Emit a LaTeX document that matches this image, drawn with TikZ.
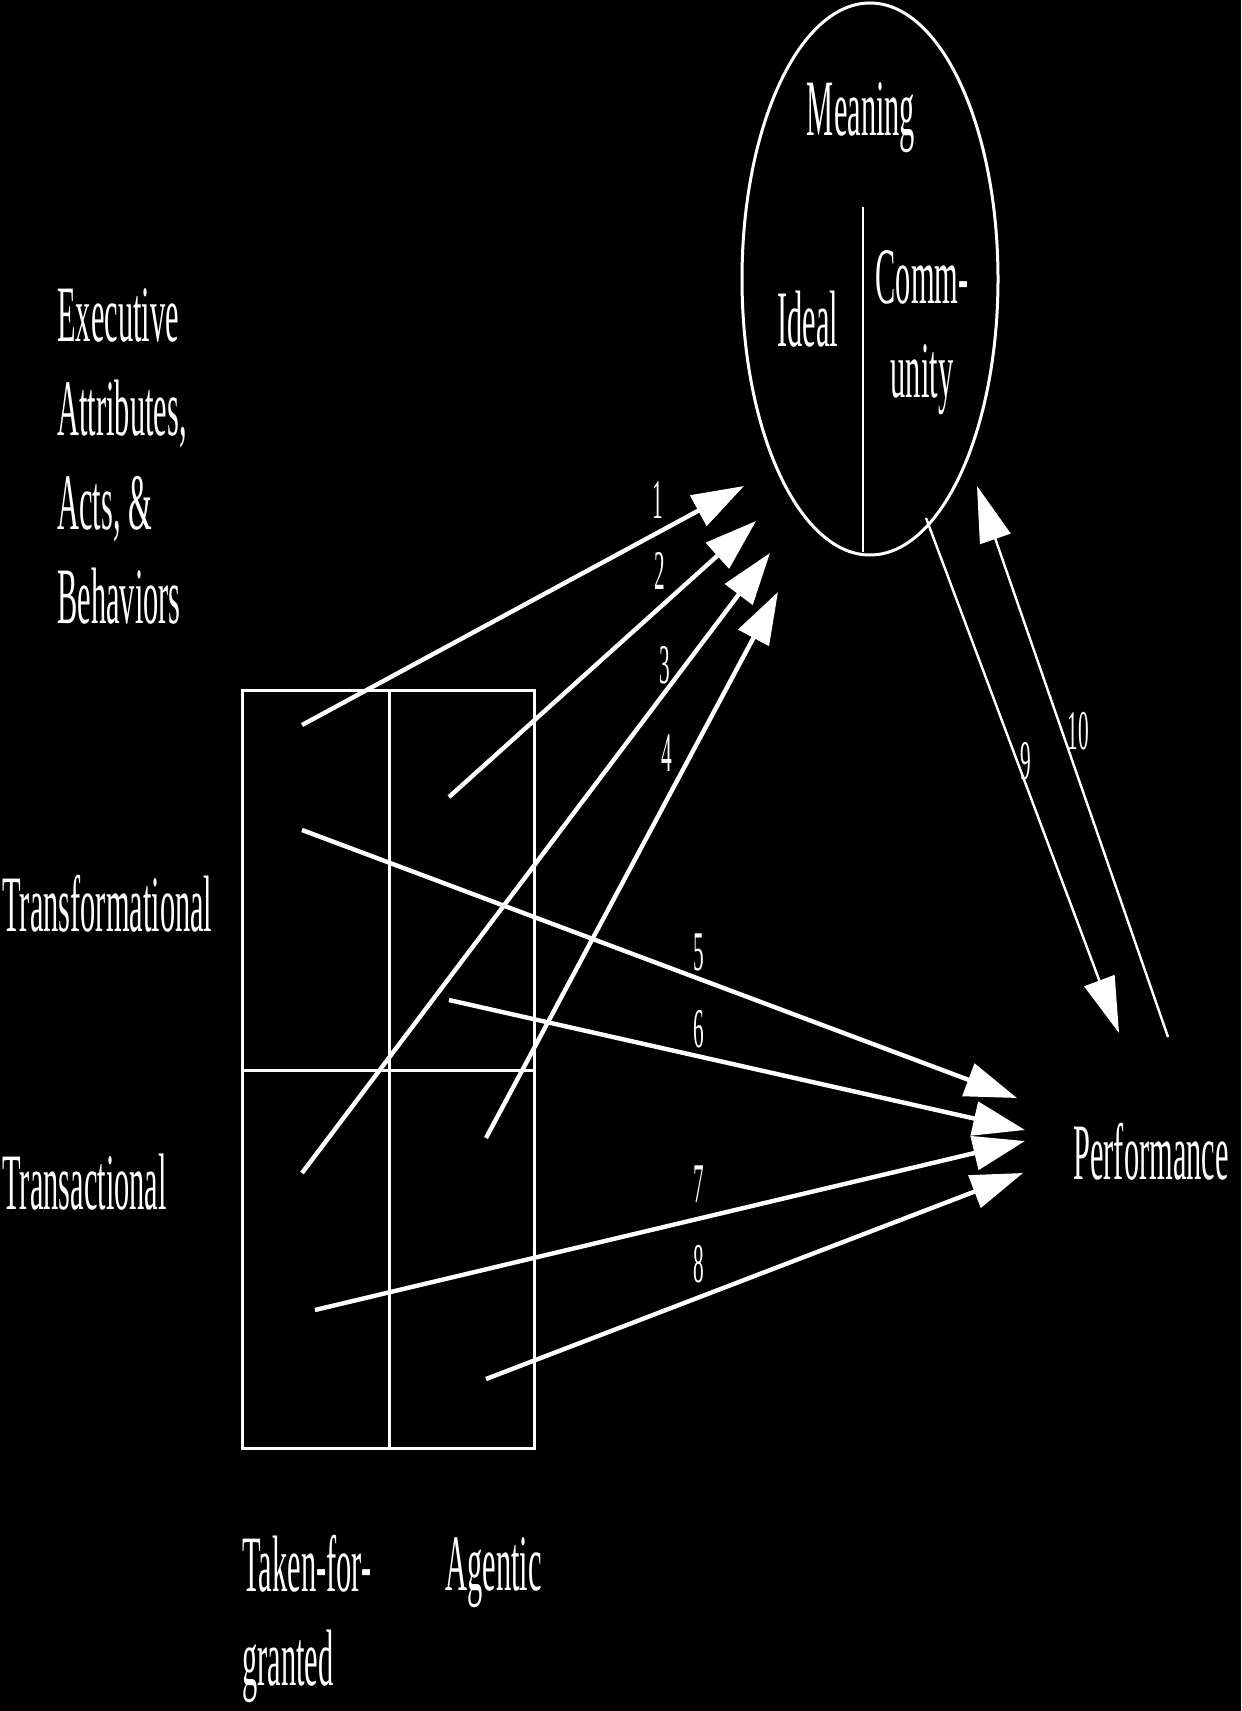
\documentclass[tikz,border=0pt]{standalone}
\usepackage{fontspec}
\setmainfont{Liberation Serif}[FakeStretch=0.38]
\usetikzlibrary{arrows.meta, shapes.geometric}

\begin{document}
\begin{tikzpicture}[x=0.5pt, y=-0.5pt,
    every node/.style={text=white, inner sep=0pt, font=\fontsize{40}{47}\selectfont},
    num/.style={font=\fontsize{28}{30}\selectfont},
    thickarrow/.style={draw=white, line width=2.2pt, -{Triangle[length=26pt, width=17pt]}},
    thinarrow/.style={draw=white, line width=1.2pt, -{Triangle[length=28pt, width=16pt]}},
    frame/.style={draw=white, line width=1.5pt}]
  \fill[black] (0,0) rectangle (1241,1711);
  \useasboundingbox (0,0) rectangle (1241,1711);

  % meaning ellipse
  \node[ellipse, frame, minimum width=128pt, minimum height=276pt] (meaning) at (870,279) {};
  \draw[white, line width=1pt] (863,207) -- (863,552);
  \node (mtitle) at (861,118) {Meaning};
  \node (ideal) at (808,319) {Ideal};
  \node[align=center] (comm) at (922,333) {Comm-\\unity};

  % left labels
  \node[anchor=west, align=left] (exec) at (57,456) {Executive\\Attributes,\\Acts, \&\\Behaviors};
  \node[anchor=west] (transf) at (2,904) {Transformational};
  \node[anchor=west] (transa) at (2,1182) {Transactional};
  \node[anchor=west, align=left] (taken) at (242,1619) {Taken-for-\\granted};
  \node[anchor=west] (agentic) at (445,1573) {Agentic};
  \node[anchor=west] (perf) at (1073,1152) {Performance};

  % 2x2 grid
  \draw[frame] (242,690) rectangle (534,1448);
  \draw[frame] (389,690) -- (389,1448);
  \draw[frame] (242,1070) -- (534,1070);

  % arrow ends
  \coordinate (s1) at (302,725);   \coordinate (t1) at (744,486);
  \coordinate (s2) at (449,797);   \coordinate (t2) at (756,521);
  \coordinate (s3) at (302,1173);  \coordinate (t3) at (770,553);
  \coordinate (s4) at (486,1138);  \coordinate (t4) at (778,592);
  \coordinate (s5) at (302,830);   \coordinate (t5) at (1017,1098);
  \coordinate (s6) at (449,1000);  \coordinate (t6) at (1025,1130);
  \coordinate (s7) at (315,1310);  \coordinate (t7) at (1025,1141);
  \coordinate (s8) at (486,1379);  \coordinate (t8) at (1023,1173);
  \coordinate (s9) at (926,518);   \coordinate (t9) at (1119,1033);
  \coordinate (s10) at (1168,1037); \coordinate (t10) at (977,486);

  \draw[thickarrow] (s1) -- (t1);
  \draw[thickarrow] (s2) -- (t2);
  \draw[thickarrow] (s3) -- (t3);
  \draw[thickarrow] (s4) -- (t4);
  \draw[thickarrow] (s5) -- (t5);
  \draw[thickarrow] (s6) -- (t6);
  \draw[thickarrow] (s7) -- (t7);
  \draw[thickarrow] (s8) -- (t8);
  \draw[thinarrow] (s9) -- (t9);
  \draw[thinarrow] (s10) -- (t10);

  % path numbers
  \node[num] (n1) at (658,500) {1};
  \node[num] (n2) at (660,571) {2};
  \node[num] (n3) at (665,665) {3};
  \node[num] (n4) at (667,753) {4};
  \node[num] (n5) at (699,952) {5};
  \node[num] (n6) at (699,1029) {6};
  \node[num] (n7) at (699,1184) {7};
  \node[num] (n8) at (699,1264) {8};
  \node[num] (n9) at (1026,761) {9};
  \node[num] (n10) at (1078,731) {10};
\end{tikzpicture}
\end{document}
